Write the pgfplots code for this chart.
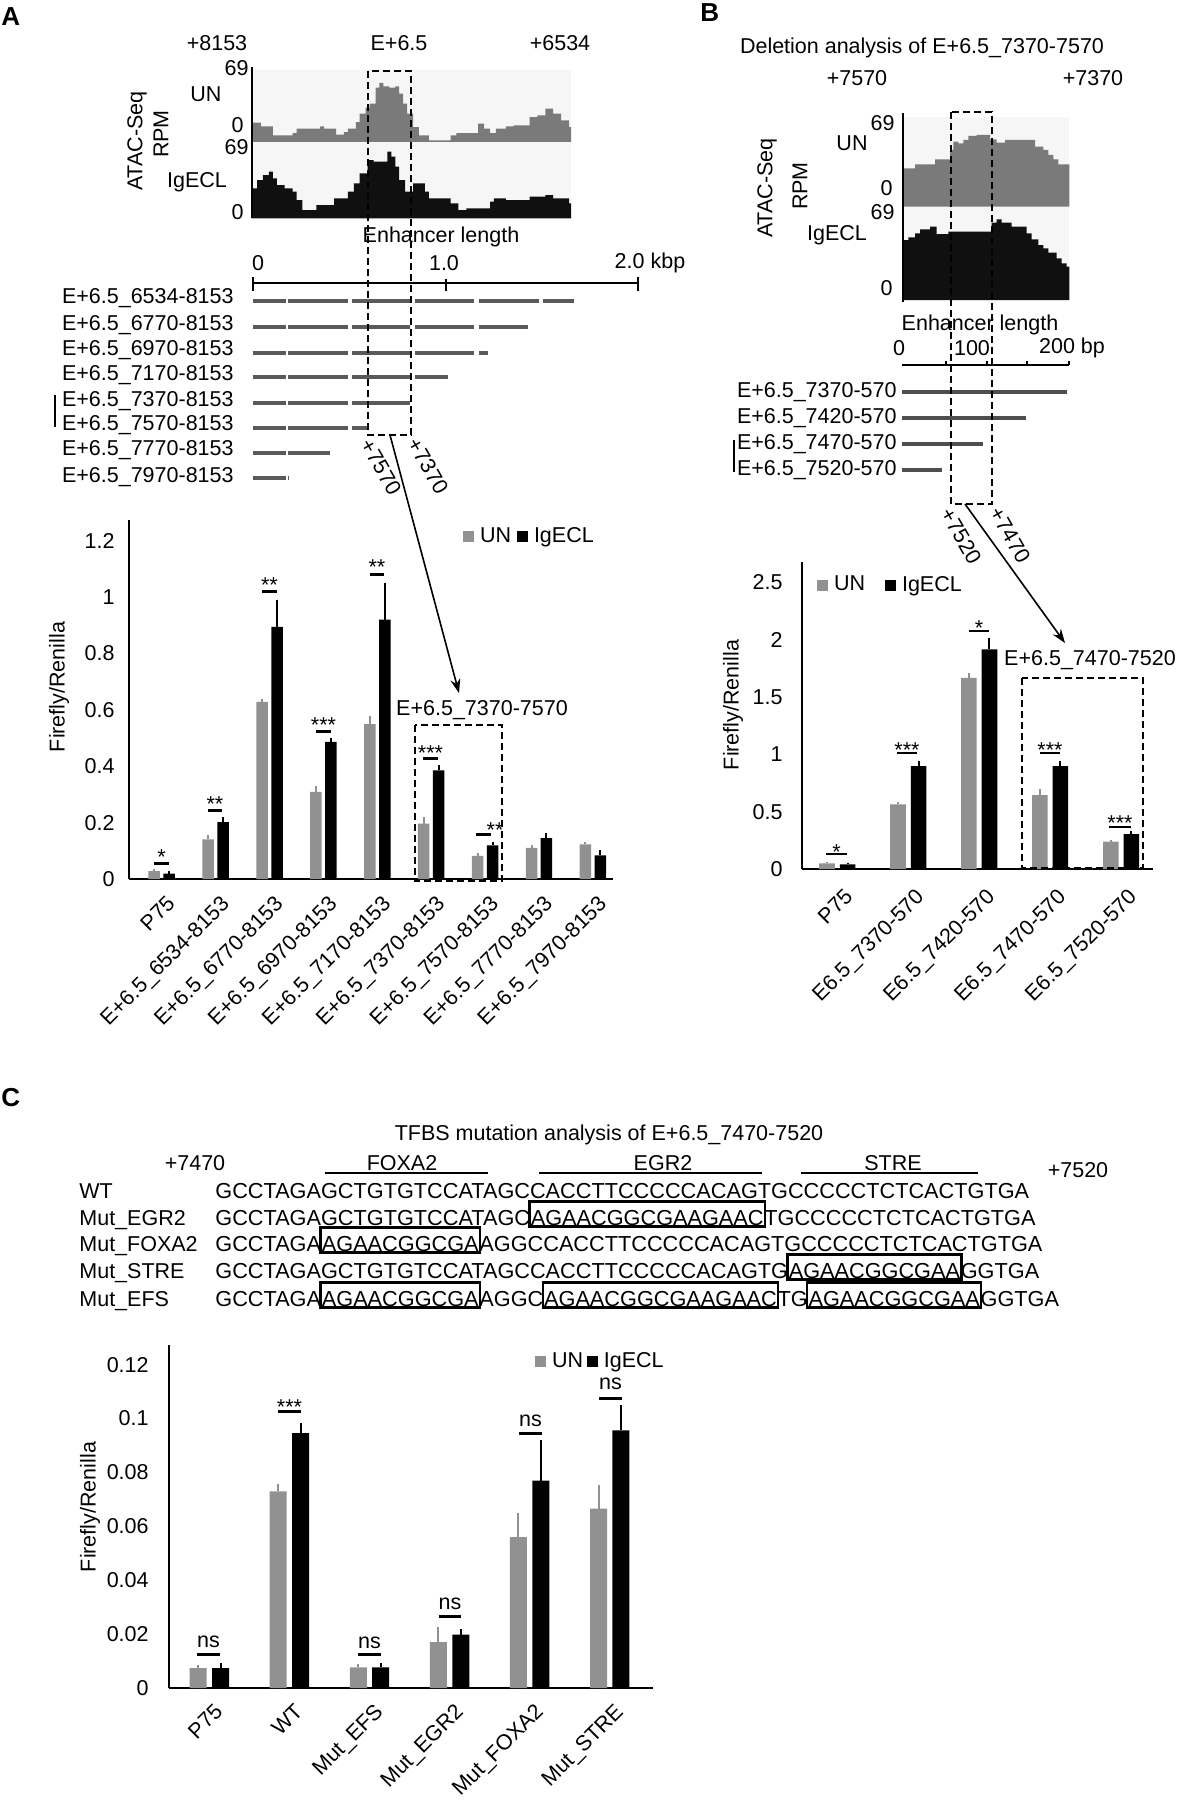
\documentclass[border=0pt]{standalone}
\usepackage{fontspec}
\setmainfont{Liberation Sans}
\usepackage{pgfplots}
\pgfplotsset{compat=1.18}
\usepackage{pgfplotstable}
\usetikzlibrary{calc,arrows.meta}

\definecolor{ungray}{RGB}{145,145,145}
\definecolor{atacun}{RGB}{122,122,122}
\definecolor{atacig}{RGB}{16,16,16}
\definecolor{trackbg}{RGB}{246,246,246}
\definecolor{enhbar}{RGB}{90,90,90}
\definecolor{enhbarB}{RGB}{78,78,78}

\newcommand{\fs}{\fontsize{10.75pt}{12.9pt}\selectfont}
\newcommand{\seqfs}{\fontsize{10.85pt}{13pt}\selectfont}
\newcommand{\panelfs}{\fontsize{13pt}{15pt}\selectfont\bfseries}

\pgfplotstableread{
x un unerr ig igerr
0 0.028 0.006 0.019 0.008
1 0.141 0.014 0.202 0.018
2 0.628 0.012 0.894 0.097
3 0.309 0.021 0.486 0.015
4 0.549 0.030 0.920 0.130
5 0.196 0.024 0.385 0.018
6 0.082 0.012 0.119 0.012
7 0.110 0.009 0.145 0.019
8 0.123 0.008 0.084 0.018
}\dataA

\pgfplotstableread{
x un unerr ig igerr
0 0.049 0.015 0.040 0.015
1 0.564 0.023 0.898 0.047
2 1.669 0.044 1.916 0.100
3 0.645 0.055 0.898 0.047
4 0.238 0.015 0.305 0.026
}\dataB

\pgfplotstableread{
x un unerr ig igerr
0 0.0074 0.0012 0.0074 0.0019
1 0.0730 0.0028 0.0946 0.0037
2 0.0077 0.0012 0.0077 0.0016
3 0.0170 0.0057 0.0198 0.0021
4 0.0560 0.0089 0.0770 0.0150
5 0.0666 0.0089 0.0956 0.0095
}\dataC

\pgfplotsset{
 barchart/.style={scale only axis, anchor=south west, axis lines*=left,
   axis line style={-, line width=1pt}, tick style={draw=none}, major tick length=0pt,
   ymin=0, font=\fs, tick label style={font=\fs}, clip=false,
   legend style={draw=none, fill=none, inner sep=0pt, legend columns=2, font=\fs,
     nodes={inner sep=0pt}, legend cell align=left}},
 track/.style={scale only axis, anchor=south west, hide axis, ymin=0},
 unbar/.style={ybar, bar shift=0pt, fill=ungray, draw=none, forget plot,
   error bars/y dir=plus, error bars/y explicit, error bars/error mark=none,
   error bars/error bar style={line width=1pt, ungray}},
 igbar/.style={ybar, bar shift=0pt, fill=black, draw=none, forget plot,
   error bars/y dir=plus, error bars/y explicit, error bars/error mark=none,
   error bars/error bar style={line width=1pt, black}},
 legun/.style={legend image code/.code={\fill[ungray] (0pt,-2.5pt) rectangle (5pt,2.5pt);}},
 legig/.style={legend image code/.code={\fill[black] (0pt,-2.5pt) rectangle (5pt,2.5pt);}},
 enhA/.style={draw=enhbar, line width=2pt, dash pattern={on 16.5pt off 1pt on 30pt off 2pt on 29pt off 2.5pt on 29.5pt off 2.5pt on 30pt off 2pt on 30pt off 2pt}},
 enhB/.style={draw=enhbarB, line width=1.7pt},
}

\begin{document}
\begin{tikzpicture}
\useasboundingbox (0pt,0pt) rectangle (589pt,-900pt);
\fill[white] (0pt,0pt) rectangle (589pt,-900pt);

% ---------- Panel A ATAC tracks ----------
\begin{axis}[track, at={(125.75pt,-71pt)}, width=159.75pt, height=36.17pt,
  xmin=636, xmax=1445, ymax=217]
\fill[trackbg] (rel axis cs:0,0) rectangle (rel axis cs:1,1);
\addplot[const plot, fill=atacun, draw=none] coordinates {
(636,58) (660,47) (690,20) (740,27) (750,40) (810,47) (820,40) (850,22) (870,30)
(880,40) (900,60) (910,85) (925,103) (935,115) (950,163) (960,177) (970,167)
(985,163) (1000,167) (1010,145) (1020,115) (1030,85) (1045,45) (1060,20) (1085,5)
(1140,20) (1155,27) (1210,55) (1225,40) (1240,27) (1255,40) (1280,47) (1300,50)
(1340,75) (1360,80) (1380,100) (1400,85) (1420,65) (1440,45) (1445,45)} \closedcycle;
\end{axis}
\begin{axis}[track, at={(125.75pt,-109.17pt)}, width=159.75pt, height=38.33pt,
  xmin=636, xmax=1445, ymax=230]
\fill[trackbg] (rel axis cs:0,0) rectangle (rel axis cs:1,1);
\addplot[const plot, fill=atacig, draw=none] coordinates {
(636,90) (650,115) (665,130) (680,140) (690,120) (700,100) (720,90) (740,80)
(750,55) (765,25) (800,40) (845,60) (880,80) (895,105) (910,135) (930,175)
(945,170) (980,200) (990,185) (1000,155) (1010,115) (1025,80) (1045,105)
(1075,80) (1085,60) (1140,45) (1160,25) (1180,30) (1240,50) (1250,60) (1280,55)
(1340,65) (1380,70) (1400,60) (1440,45) (1445,45)} \closedcycle;
\end{axis}

% ---------- Panel A enhancer constructs ----------
\begin{axis}[scale only axis, anchor=south west, hide axis, at={(126.5pt,-245pt)},
  width=192.5pt, height=110pt, xmin=0, xmax=2, ymin=270, ymax=490, y dir=reverse, clip=false]
\addplot[enhA] coordinates {(0,301) (1.666,301)};
\addplot[enhA] coordinates {(0,327) (1.427,327)};
\addplot[enhA] coordinates {(0,353) (1.220,353)};
\addplot[enhA] coordinates {(0,377) (1.012,377)};
\addplot[enhA] coordinates {(0,403) (0.815,403)};
\addplot[enhA] coordinates {(0,428) (0.592,428)};
\addplot[enhA] coordinates {(0,453) (0.400,453)};
\addplot[enhA] coordinates {(0,478) (0.182,478)};
\end{axis}

% ---------- Panel A bar chart ----------
\begin{axis}[barchart, at={(64.5pt,-439.5pt)}, width=242pt, height=179.5pt,
  xmin=-0.607, xmax=8.373, ymax=1.273,
  ytick={0,0.2,0.4,0.6,0.8,1,1.2}, yticklabels={0,0.2,0.4,0.6,0.8,1,1.2},
  yticklabel style={anchor=east, inner sep=0pt, xshift=-7pt},
  xtick={0,1,2,3,4,5,6,7,8},
  xticklabels={P75,E+6.5\_6534-8153,E+6.5\_6770-8153,E+6.5\_6970-8153,E+6.5\_7170-8153,E+6.5\_7370-8153,E+6.5\_7570-8153,E+6.5\_7770-8153,E+6.5\_7970-8153},
  xticklabel style={xshift=2pt, yshift=-7.5pt, rotate=45, anchor=north east, inner sep=0pt},
  legend style={at={(0.690,0.953)}, anchor=west,
    /tikz/every odd column/.append style={column sep=3pt},
    /tikz/every even column/.append style={column sep=3pt}}]
\addplot[bar width=5.75pt, unbar] table[x expr=\thisrow{x}-0.139,y=un,y error=unerr]{\dataA};
\addplot[bar width=5.75pt, igbar] table[x expr=\thisrow{x}+0.139,y=ig,y error=igerr]{\dataA};
\addlegendimage{legun}\addlegendentry{UN}
\addlegendimage{legig}\addlegendentry{IgECL}
\end{axis}

% ---------- Panel B ATAC tracks ----------
\begin{axis}[track, at={(451.67pt,-103.33pt)}, width=83pt, height=44.67pt,
  xmin=610, xmax=1108, ymax=268]
\fill[trackbg] (rel axis cs:0,0) rectangle (rel axis cs:1,1);
\addplot[const plot, fill=atacun, draw=none] coordinates {
(610,115) (645,127) (705,142) (750,170) (760,195) (775,190) (790,200) (805,212)
(830,215) (870,202) (890,192) (915,200) (1005,180) (1030,170) (1045,155)
(1060,142) (1075,127) (1108,127)} \closedcycle;
\end{axis}
\begin{axis}[track, at={(451.67pt,-150pt)}, width=83pt, height=46.67pt,
  xmin=610, xmax=1108, ymax=280]
\fill[trackbg] (rel axis cs:0,0) rectangle (rel axis cs:1,1);
\addplot[const plot, fill=atacig, draw=none] coordinates {
(610,180) (625,188) (645,200) (660,212) (690,220) (710,198) (745,205) (875,232)
(890,242) (905,232) (935,220) (980,200) (995,182) (1015,165) (1030,155)
(1045,142) (1070,125) (1085,110) (1100,100) (1108,100)} \closedcycle;
\end{axis}

% ---------- Panel B constructs ----------
\begin{axis}[scale only axis, anchor=south west, hide axis, at={(451pt,-242.5pt)},
  width=83.5pt, height=55pt, xmin=0, xmax=200, ymin=375, ymax=485, y dir=reverse, clip=false]
\addplot[enhB] coordinates {(0,392) (198,392)};
\addplot[enhB] coordinates {(0,418) (148,418)};
\addplot[enhB] coordinates {(0,444) (97,444)};
\addplot[enhB] coordinates {(0,470) (48,470)};
\end{axis}

% ---------- Panel B bar chart ----------
\begin{axis}[barchart, at={(401pt,-434.5pt)}, width=175.5pt, height=153.5pt,
  xmin=-0.498, xmax=4.45, ymax=2.679,
  ytick={0,0.5,1,1.5,2,2.5}, yticklabels={0,0.5,1,1.5,2,2.5},
  yticklabel style={anchor=east, inner sep=0pt, xshift=-9.5pt},
  xtick={0,1,2,3,4},
  xticklabels={P75,E6.5\_7370-570,E6.5\_7420-570,E6.5\_7470-570,E6.5\_7520-570},
  xticklabel style={xshift=3pt, yshift=-9pt, rotate=45, anchor=north east, inner sep=0pt},
  legend style={at={(0.0427,0.925)}, anchor=west,
    /tikz/every odd column/.append style={column sep=3pt},
    /tikz/every even column/.append style={column sep=10pt}}]
\addplot[bar width=7.8pt, unbar] table[x expr=\thisrow{x}-0.145,y=un,y error=unerr]{\dataB};
\addplot[bar width=7.8pt, igbar] table[x expr=\thisrow{x}+0.145,y=ig,y error=igerr]{\dataB};
\addlegendimage{legun}\addlegendentry{UN}
\addlegendimage{legig}\addlegendentry{IgECL}
\end{axis}

% ---------- Panel C bar chart ----------
\begin{axis}[barchart, at={(84.5pt,-844pt)}, width=242pt, height=171.5pt,
  xmin=-0.504, xmax=5.54, ymax=0.1273,
  ytick={0,0.02,0.04,0.06,0.08,0.1,0.12}, yticklabels={0,0.02,0.04,0.06,0.08,0.1,0.12},
  yticklabel style={anchor=east, inner sep=0pt, xshift=-10pt},
  xtick={0,1,2,3,4,5},
  xticklabels={P75,WT,Mut\_EFS,Mut\_EGR2,Mut\_FOXA2,Mut\_STRE},
  xticklabel style={xshift=2pt, yshift=-7pt, rotate=45, anchor=north east, inner sep=0pt},
  legend style={at={(0.756,0.953)}, anchor=west,
    /tikz/every odd column/.append style={column sep=3pt},
    /tikz/every even column/.append style={column sep=2pt}}]
\addplot[bar width=8.5pt, unbar] table[x expr=\thisrow{x}-0.140,y=un,y error=unerr]{\dataC};
\addplot[bar width=8.5pt, igbar] table[x expr=\thisrow{x}+0.140,y=ig,y error=igerr]{\dataC};
\addlegendimage{legun}\addlegendentry{UN}
\addlegendimage{legig}\addlegendentry{IgECL}
\end{axis}

% ---------- Annotations (pixel coordinates) ----------
\begin{scope}[x=0.5pt,y=-0.5pt, every node/.style={font=\fs, inner sep=0pt},
  dashbox/.style={line width=1pt, dash pattern=on 3.5pt off 2pt},
  sig/.style={line width=1.5pt}, boxst/.style={line width=1.1pt}]

% panel letters
\node[anchor=north west, font=\panelfs] at (1,7) {A};
\node[anchor=north west, font=\panelfs] at (700,3) {B};
\node[anchor=north west, font=\panelfs] at (1,1088) {C};

% ---- A header + tracks
\node at (217,43) {+8153};
\node at (399,43) {E+6.5};
\node at (560,43) {+6534};
\node[anchor=east] at (249,68) {69};
\node[anchor=east] at (244,125) {0};
\node[anchor=east] at (249,147) {69};
\node[anchor=east] at (244,212) {0};
\node at (206,94) {UN};
\node at (197,182) {IgECL};
\node[rotate=90] at (137,141) {ATAC-Seq};
\node[rotate=90] at (161,134) {RPM};
\draw[line width=1pt] (251.5,67) -- (251.5,218);

% ---- A constructs
\node at (441,237) {Enhancer length};
\node at (258,263) {0};
\node at (444,263) {1.0};
\node at (650,263) {2.0 kbp};
\draw[line width=1pt] (253,283) -- (638,283);
\draw[line width=1pt] (253,277)--(253,291) (446,279)--(446,291) (638,277)--(638,291);
\node[anchor=east] at (234,298) {E+6.5\_6534-8153};
\node[anchor=east] at (234,325) {E+6.5\_6770-8153};
\node[anchor=east] at (234,350) {E+6.5\_6970-8153};
\node[anchor=east] at (234,375) {E+6.5\_7170-8153};
\node[anchor=east] at (234,401) {E+6.5\_7370-8153};
\node[anchor=east] at (234,425) {E+6.5\_7570-8153};
\node[anchor=east] at (234,450) {E+6.5\_7770-8153};
\node[anchor=east] at (234,477) {E+6.5\_7970-8153};
\draw[line width=1pt] (55,395)--(55,427);
\draw[dashbox] (368,71) rectangle (411,435);
\node[rotate=-60] at (381,467) {+7570};
\node[rotate=-60] at (428,466) {+7370};
\draw[line width=0.8pt, -{Stealth[length=7pt,width=5pt]}] (390,435) -- (459,693);

% ---- A chart
\node[rotate=90] at (59,687) {Firefly/Renilla};
\draw[sig] (154,863)--(169,863); \node[anchor=base] at (161.5,864) {*};
\draw[sig] (208,810)--(222,810); \node[anchor=base] at (215,811) {**};
\draw[sig] (262,591)--(277,591); \node[anchor=base] at (269.5,592) {**};
\draw[sig] (316,731)--(331,731); \node[anchor=base] at (323.5,732) {***};
\draw[sig] (370,574)--(384,574); \node[anchor=base] at (377,574) {**};
\draw[sig] (423,758)--(438,758); \node[anchor=base] at (430.5,760) {***};
\draw[sig] (476,834)--(491,834); \node[anchor=base] at (495,837) {**};
\node at (482,710) {E+6.5\_7370-7570};
\draw[dashbox] (415,725) rectangle (502,881);

% ---- B header + tracks
\node at (922,48) {Deletion analysis of E+6.5\_7370-7570};
\node at (857,78) {+7570};
\node at (1093,78) {+7370};
\node[anchor=east] at (895,123) {69};
\node[anchor=east] at (893,188) {0};
\node[anchor=east] at (895,212) {69};
\node[anchor=east] at (893,288) {0};
\node at (852,143) {UN};
\node at (837,235) {IgECL};
\node[rotate=90] at (767,188) {ATAC-Seq};
\node[rotate=90] at (800,186) {RPM};
\draw[line width=1pt] (903,113) -- (903,302);

% ---- B constructs
\node at (980,325) {Enhancer length};
\node at (899,348) {0};
\node at (972,348) {100};
\node at (1072,348) {200 bp};
\draw[line width=0.8pt] (902,365) -- (1069,365);
\draw[line width=0.6pt] (946,365)--(946,361) (987,365)--(987,361) (1027,365)--(1027,361) (1069,365)--(1069,361);
\node[anchor=east] at (897,392) {E+6.5\_7370-570};
\node[anchor=east] at (897,418) {E+6.5\_7420-570};
\node[anchor=east] at (897,444) {E+6.5\_7470-570};
\node[anchor=east] at (897,470) {E+6.5\_7520-570};
\draw[line width=1pt] (734,440)--(734,472);
\draw[dashbox] (951,112) rectangle (992,504);
\node[rotate=-60] at (961,536) {+7520};
\node[rotate=-60] at (1010,535) {+7470};
\draw[line width=0.8pt, -{Stealth[length=7pt,width=5pt]}] (965,504) -- (1065,643);

% ---- B chart
\node[rotate=90] at (733,705) {Firefly/Renilla};
\draw[line width=1pt] (826,854)--(847,854); \node[anchor=base] at (836.5,859) {*};
\draw[line width=1pt] (897,753)--(917,753); \node[anchor=base] at (907,757) {***};
\draw[line width=1pt] (969,631)--(989,631); \node[anchor=base] at (979,635) {*};
\draw[line width=1pt] (1040,753)--(1060,753); \node[anchor=base] at (1050,757) {***};
\draw[line width=1pt] (1109,827)--(1131,827); \node[anchor=base] at (1120,830) {***};
\node at (1090,660) {E+6.5\_7470-7520};
\draw[dashbox] (1022,678) rectangle (1143,868);

% ---- C sequences
\node at (609,1135) {TFBS mutation analysis of E+6.5\_7470-7520};
\node at (195,1163) {+7470};
\node at (402,1163) {FOXA2};
\node at (663,1163) {EGR2};
\node at (893,1163) {STRE};
\node at (1078,1170) {+7520};
\draw[line width=1pt] (325,1173)--(488,1173) (539,1173)--(762,1173) (801,1173)--(978,1173);

\node[anchor=base west] at (79,1198) {WT};
\node[anchor=base west] at (79,1225) {Mut\_EGR2};
\node[anchor=base west] at (79,1251) {Mut\_FOXA2};
\node[anchor=base west] at (79,1278) {Mut\_STRE};
\node[anchor=base west] at (79,1306) {Mut\_EFS};

\begin{scope}[every node/.style={font=\seqfs, inner sep=0pt, anchor=base west}]
\node at (215,1198) {GCCTAGAGCTGTGTCCATAGCCACCTTCCCCCACAGTGCCCCCTCTCACTGTGA};
% Mut_EGR2
\node (e1) at (215,1225) {GCCTAGAGCTGTGTCCATAGC};
\node (e2) at (e1.base east) {AGAACGGCGAAGAAC};
\node (e3) at (e2.base east) {TGCCCCCTCTCACTGTGA};
\draw[boxst] ($(e2.base west)+(-1,1.5)$) rectangle ($(e2.base east)+(1,-23.5)$);
% Mut_FOXA2
\node (f1) at (215,1251) {GCCTAGA};
\node (f2) at (f1.base east) {AGAACGGCGA};
\node (f3) at (f2.base east) {AGGCCACCTTCCCCCACAGTGCCCCCTCTCACTGTGA};
\draw[boxst] ($(f2.base west)+(-1,1.5)$) rectangle ($(f2.base east)+(1,-23.5)$);
% Mut_STRE
\node (s1) at (215,1278) {GCCTAGAGCTGTGTCCATAGCCACCTTCCCCCACAGTG};
\node (s2) at (s1.base east) {AGAACGGCGAA};
\node (s3) at (s2.base east) {GGTGA};
\draw[boxst] ($(s2.base west)+(-1,1.5)$) rectangle ($(s2.base east)+(1,-23.5)$);
% Mut_EFS
\node (m1) at (215,1306) {GCCTAGA};
\node (m2) at (m1.base east) {AGAACGGCGA};
\node (m3) at (m2.base east) {AGGC};
\node (m4) at (m3.base east) {AGAACGGCGAAGAAC};
\node (m5) at (m4.base east) {TG};
\node (m6) at (m5.base east) {AGAACGGCGAA};
\node (m7) at (m6.base east) {GGTGA};
\draw[boxst] ($(m2.base west)+(-1,1.5)$) rectangle ($(m2.base east)+(1,-23.5)$);
\draw[boxst] ($(m4.base west)+(-1,1.5)$) rectangle ($(m4.base east)+(1,-23.5)$);
\draw[boxst] ($(m6.base west)+(-1,1.5)$) rectangle ($(m6.base east)+(1,-23.5)$);
\end{scope}

% ---- C chart
\node[rotate=90] at (90,1507) {Firefly/Renilla};
\draw[sig] (197,1654)--(220,1654); \node[anchor=base] at (208.5,1647.6) {ns};
\draw[sig] (278,1411)--(301,1411); \node[anchor=base] at (289.5,1414) {***};
\draw[sig] (358,1654)--(381,1654); \node[anchor=base] at (369.5,1648.6) {ns};
\draw[sig] (439,1616)--(461,1616); \node[anchor=base] at (450,1609.6) {ns};
\draw[sig] (519,1433)--(542,1433); \node[anchor=base] at (530.5,1426.6) {ns};
\draw[sig] (599,1398)--(622,1398); \node[anchor=base] at (610.5,1389.6) {ns};
\end{scope}
\end{tikzpicture}
\end{document}
